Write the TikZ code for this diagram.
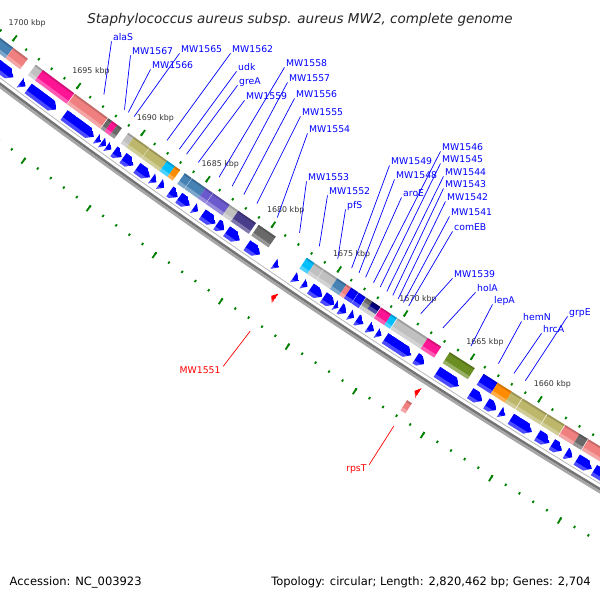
\documentclass[tikz,border=0pt]{standalone}
\usepackage{fontspec}
\setmainfont{DejaVu Sans}
\definecolor{cSteel}{HTML}{4682B4}
\definecolor{cCoral}{HTML}{F08080}
\definecolor{cLGray}{HTML}{C0C0C0}
\definecolor{cPink}{HTML}{FF1493}
\definecolor{cDGray}{HTML}{696969}
\definecolor{cKhaki}{HTML}{BDB76B}
\definecolor{cSky}{HTML}{00BFFF}
\definecolor{cOrange}{HTML}{FF8C00}
\definecolor{cSlate}{HTML}{6A5ACD}
\definecolor{cDSlate}{HTML}{483D8B}
\definecolor{cNavy}{HTML}{000080}
\definecolor{cOlive}{HTML}{6B8E23}
\definecolor{cBlue}{HTML}{0000FF}
\definecolor{cRed}{HTML}{FF0000}
\definecolor{cTick}{HTML}{008000}
\def\gCX{4326}\def\gCY{5672}\def\gRR{7154}
% point at genome position #2 (kbp), radial offset #3 (px, outward)
\newcommand\setpt[3]{%
  \expandafter\edef\csname p#1x\endcsname{\fpeval{round(\gCX+(\gRR+(#3))*cosd(235.5+(1680-(#2))*0.12764),2)}}%
  \expandafter\edef\csname p#1y\endcsname{\fpeval{round(\gCY+(\gRR+(#3))*sind(235.5+(1680-(#2))*0.12764),2)}}%
}
\newcommand\cogboxd[5]{%
  \setpt{A}{#1}{#3}\setpt{B}{#2}{#3}\setpt{C}{#2}{#4}\setpt{D}{#1}{#4}%
  \setpt{E}{#1}{#4-3.5}\setpt{F}{#2}{#4-3.5}%
  \setpt{G}{#1}{#3+1.8}\setpt{H}{#2}{#3+1.8}%
  \fill[#5] (\pAx,\pAy) -- (\pBx,\pBy) -- (\pCx,\pCy) -- (\pDx,\pDy) -- cycle;
  \fill[white,opacity=.3] (\pEx,\pEy) -- (\pFx,\pFy) -- (\pCx,\pCy) -- (\pDx,\pDy) -- cycle;
  \fill[black,opacity=.18] (\pAx,\pAy) -- (\pBx,\pBy) -- (\pHx,\pHy) -- (\pGx,\pGy) -- cycle;
}
\newcommand\cogbox[3]{\cogboxd{#1}{#2}{9.5}{22.5}{#3}}
% reverse-strand gene arrow (tip toward lower position)
\newcommand\revarrow[3]{%
  \setpt{A}{#1}{27}\setpt{D}{#1}{39}\setpt{T}{#2}{33}%
  \setpt{B}{#2+0.4}{27}\setpt{C}{#2+0.4}{39}%
  \ifdim\fpeval{#1-#2}pt<0.45pt
    \def\zzshape{(\pAx,\pAy) -- (\pTx,\pTy) -- (\pDx,\pDy) -- cycle}%
  \else
    \def\zzshape{(\pAx,\pAy) -- (\pBx,\pBy) -- (\pTx,\pTy) -- (\pCx,\pCy) -- (\pDx,\pDy) -- cycle}%
  \fi
  \setpt{E}{#1}{35.5}\setpt{F}{#2}{35.5}\setpt{G}{#2}{40}\setpt{H}{#1}{40}%
  \begin{scope}
    \clip \zzshape;
    \fill[#3] \zzshape;
    \fill[white,opacity=.3] (\pEx,\pEy) -- (\pFx,\pFy) -- (\pGx,\pGy) -- (\pHx,\pHy) -- cycle;
  \end{scope}
}
% forward-strand gene arrow (tip toward higher position)
\newcommand\fwdarrow[3]{%
  \setpt{A}{#2}{55}\setpt{D}{#2}{67}\setpt{T}{#1}{61}%
  \setpt{B}{#1-0.4}{55}\setpt{C}{#1-0.4}{67}%
  \ifdim\fpeval{#1-#2}pt<0.45pt
    \def\zzshape{(\pAx,\pAy) -- (\pTx,\pTy) -- (\pDx,\pDy) -- cycle}%
  \else
    \def\zzshape{(\pAx,\pAy) -- (\pBx,\pBy) -- (\pTx,\pTy) -- (\pCx,\pCy) -- (\pDx,\pDy) -- cycle}%
  \fi
  \setpt{E}{#2}{63.5}\setpt{F}{#1}{63.5}\setpt{G}{#1}{68}\setpt{H}{#2}{68}%
  \begin{scope}
    \clip \zzshape;
    \fill[#3] \zzshape;
    \fill[white,opacity=.3] (\pEx,\pEy) -- (\pFx,\pFy) -- (\pGx,\pGy) -- (\pHx,\pHy) -- cycle;
  \end{scope}
}
\newcommand\glabel[5]{%
  \node[glbl] (#1) at (#2,{-(#3+3.4)}) {#5};
  \setpt{A}{#4}{-7}\coordinate (#1e) at (\pAx,\pAy);
  \draw[gline] ([shift={(-1.5,-1)}]#1.base west) -- (#1e);
}
\newcommand\rlabel[5]{%
  \node[rlbl] (#1) at (#2,{-(#3+3.4)}) {#5};
  \setpt{A}{#4}{102}\coordinate (#1e) at (\pAx,\pAy);
  \draw[rline] ([shift={(2.5,7)}]#1.base east) -- (#1e);
}
\begin{document}
\begin{tikzpicture}[x=1pt,y=1pt,
  rtick/.style={draw=cTick,line width=1.8pt},
  klbl/.style={anchor=base west,inner sep=0pt,text=black!80,font=\fontsize{7.9}{9}\selectfont},
  glbl/.style={anchor=base west,inner sep=0pt,text=cBlue,font=\fontsize{9.3}{11}\selectfont},
  rlbl/.style={anchor=base east,inner sep=0pt,text=cRed,font=\fontsize{9.3}{11}\selectfont},
  gline/.style={draw=cBlue,line width=0.7pt},
  rline/.style={draw=cRed,line width=0.7pt}]
\useasboundingbox (0,0) rectangle (600,-600);
\fill[white] (0,0) rectangle (600,-600);
\clip (0,0) rectangle (600,-600);

% rulers
\foreach \k in {1645,...,1710}{%
  \setpt{A}{\k}{2}\setpt{B}{\k}{4.5}\draw[rtick] (\pAx,\pAy) -- (\pBx,\pBy);
  \setpt{A}{\k}{90.5}\setpt{B}{\k}{93}\draw[rtick] (\pAx,\pAy) -- (\pBx,\pBy);
}
\foreach \k in {1645,1650,...,1710}{%
  \setpt{A}{\k}{-2.5}\setpt{B}{\k}{4.5}\draw[rtick] (\pAx,\pAy) -- (\pBx,\pBy);
  \setpt{A}{\k}{90.5}\setpt{B}{\k}{97.5}\draw[rtick] (\pAx,\pAy) -- (\pBx,\pBy);
}
\foreach \k in {1660,1665,...,1700}{%
  \setpt{A}{\k}{0}\node[klbl] (k\k) at (\pAx-7,\pAy+11.6) {\k\ kbp};
}

% backbone
\setpt{A}{1712}{41.5}\xdef\thinpath{(\pAx,\pAy)}
\setpt{A}{1712}{46.25}\xdef\bandA{(\pAx,\pAy)}
\setpt{A}{1712}{48.75}\xdef\bandB{(\pAx,\pAy)}
\foreach \k in {1710,1708,...,1644}{%
  \setpt{A}{\k}{41.5}\xdef\thinpath{\thinpath -- (\pAx,\pAy)}%
  \setpt{A}{\k}{46.25}\xdef\bandA{\bandA -- (\pAx,\pAy)}%
  \setpt{A}{\k}{48.75}\xdef\bandB{\bandB -- (\pAx,\pAy)}%
}
\draw[gray!55,line width=0.8pt] \thinpath;
\draw[black!55,line width=2.6pt] \bandA;
\draw[black!35,line width=2.6pt] \bandB;

% COG ring (reverse strand)
\cogbox{1703}{1699.72}{cSteel}
\cogbox{1699.7}{1698.57}{cCoral}
\cogbox{1697.95}{1697.42}{cLGray}
\cogbox{1697.4}{1694.95}{cPink}
\cogbox{1694.9}{1692.35}{cCoral}
\cogbox{1692.3}{1692.0}{cDGray}
\cogbox{1692.0}{1691.6}{cPink}
\cogbox{1691.6}{1691.25}{cDGray}
\cogbox{1690.75}{1690.3}{cLGray}
\cogbox{1690.3}{1689.15}{cKhaki}
\cogbox{1689.12}{1687.75}{cKhaki}
\cogbox{1687.75}{1687.15}{cSky}
\cogbox{1687.15}{1686.75}{cOrange}
\cogbox{1686.4}{1685.87}{cSteel}
\cogbox{1685.84}{1684.8}{cSteel}
\cogbox{1684.8}{1684.25}{cSlate}
\cogbox{1684.22}{1682.95}{cSlate}
\cogbox{1682.95}{1682.3}{cLGray}
\cogbox{1682.3}{1680.95}{cDSlate}
\cogbox{1680.75}{1679.45}{cDGray}
\cogbox{1677.1}{1676.5}{cSky}
\cogbox{1676.5}{1675.85}{cLGray}
\cogbox{1675.82}{1674.8}{cLGray}
\cogbox{1674.8}{1674.1}{cSteel}
\cogbox{1674.1}{1673.75}{cCoral}
\cogbox{1673.75}{1673.2}{cBlue}
\cogbox{1673.17}{1672.65}{cBlue}
\cogbox{1672.6}{1671.55}{cLGray}
\cogboxd{1672.6}{1672.15}{9.5}{18}{cDGray}
\cogboxd{1672.15}{1671.55}{9.5}{18}{cNavy}
\cogbox{1671.5}{1670.72}{cPink}
\cogbox{1670.72}{1670.3}{cSky}
\cogbox{1670.25}{1668.0}{cLGray}
\cogbox{1668.0}{1667.0}{cPink}
\cogbox{1666.36}{1664.5}{cOlive}
\cogbox{1663.84}{1662.8}{cBlue}
\cogbox{1662.8}{1661.75}{cOrange}
\cogbox{1661.75}{1661.0}{cKhaki}
\cogbox{1660.95}{1659.15}{cKhaki}
\cogbox{1659.1}{1657.85}{cKhaki}
\cogbox{1657.8}{1656.75}{cCoral}
\cogbox{1656.75}{1656.15}{cDGray}
\cogbox{1656.1}{1652}{cCoral}

% reverse strand genes
\revarrow{1702}{1698.6}{cBlue}
\revarrow{1698.05}{1697.65}{cBlue}
\revarrow{1697.44}{1695.24}{cBlue}
\revarrow{1694.65}{1692.35}{cBlue}
\revarrow{1692.15}{1691.8}{cBlue}
\revarrow{1691.75}{1691.4}{cBlue}
\revarrow{1691.35}{1691.0}{cBlue}
\revarrow{1690.8}{1690.2}{cBlue}
\revarrow{1690.1}{1689.3}{cBlue}
\revarrow{1689.03}{1688.03}{cBlue}
\revarrow{1687.9}{1687.5}{cBlue}
\revarrow{1687.3}{1686.9}{cBlue}
\revarrow{1686.5}{1685.9}{cBlue}
\revarrow{1685.82}{1684.98}{cBlue}
\revarrow{1684.7}{1684.35}{cBlue}
\revarrow{1684.02}{1683.02}{cBlue}
\revarrow{1682.92}{1682.32}{cBlue}
\revarrow{1682.17}{1681.17}{cBlue}
\revarrow{1680.63}{1679.63}{cBlue}
\revarrow{1678.58}{1678.2}{cBlue}
\revarrow{1677.1}{1676.7}{cBlue}
\revarrow{1676.4}{1676.05}{cBlue}
\revarrow{1675.83}{1674.93}{cBlue}
\revarrow{1674.85}{1674.02}{cBlue}
\revarrow{1674.0}{1673.7}{cBlue}
\revarrow{1673.6}{1673.1}{cBlue}
\revarrow{1672.9}{1672.55}{cBlue}
\revarrow{1672.35}{1671.85}{cBlue}
\revarrow{1671.5}{1671.05}{cBlue}
\revarrow{1670.85}{1670.5}{cBlue}
\revarrow{1670.23}{1668.28}{cBlue}
\revarrow{1667.95}{1667.28}{cBlue}
\revarrow{1666.37}{1664.73}{cBlue}
\revarrow{1663.9}{1663.0}{cBlue}
\revarrow{1662.7}{1661.95}{cBlue}
\revarrow{1661.7}{1661.3}{cBlue}
\revarrow{1660.9}{1659.35}{cBlue}
\revarrow{1658.95}{1658.06}{cBlue}
\revarrow{1657.88}{1657.14}{cBlue}
\revarrow{1656.85}{1656.35}{cBlue}
\revarrow{1656.06}{1654.96}{cBlue}
\revarrow{1654.8}{1651}{cBlue}

% forward strand genes
\fwdarrow{1677.6}{1677.3}{cRed}
\fwdarrow{1666.9}{1666.62}{cRed}
\cogboxd{1666.98}{1666.62}{73}{85}{cCoral}

% labels
\glabel{alaS}{113}{37}{1693.4}{alaS}
\glabel{MW1567}{132}{51}{1691.8}{MW1567}
\glabel{MW1566}{152}{65}{1691.5}{MW1566}
\glabel{MW1565}{181}{49}{1691.05}{MW1565}
\glabel{MW1562}{232}{49}{1688.5}{MW1562}
\glabel{udk}{238}{67}{1687.55}{udk}
\glabel{greA}{239}{81}{1687.0}{greA}
\glabel{MW1559}{246}{96}{1686.1}{MW1559}
\glabel{MW1558}{286}{63}{1684.5}{MW1558}
\glabel{MW1557}{289}{78}{1683.5}{MW1557}
\glabel{MW1556}{296}{94}{1682.6}{MW1556}
\glabel{MW1555}{302}{112}{1681.6}{MW1555}
\glabel{MW1554}{309}{129}{1680.05}{MW1554}
\glabel{MW1553}{308}{177}{1678.35}{MW1553}
\glabel{MW1552}{329}{191}{1676.85}{MW1552}
\glabel{pfS}{347}{205}{1675.45}{pfS}
\glabel{MW1549}{391}{161}{1674.4}{MW1549}
\glabel{MW1548}{396}{175}{1673.85}{MW1548}
\glabel{aroE}{403}{193}{1673.35}{aroE}
\glabel{MW1546}{442}{147}{1672.75}{MW1546}
\glabel{MW1545}{442}{159}{1672.25}{MW1545}
\glabel{MW1544}{445}{172}{1671.75}{MW1544}
\glabel{MW1543}{445}{184}{1671.3}{MW1543}
\glabel{MW1542}{447}{197}{1670.9}{MW1542}
\glabel{MW1541}{451}{212}{1670.5}{MW1541}
\glabel{comEB}{454}{227}{1670.1}{comEB}
\glabel{MW1539}{454}{274}{1669.2}{MW1539}
\glabel{holA}{477}{288}{1667.55}{holA}
\glabel{lepA}{494}{300}{1665.45}{lepA}
\glabel{hemN}{523}{317}{1663.4}{hemN}
\glabel{hrcA}{543}{329}{1662.25}{hrcA}
\glabel{grpE}{569}{312}{1661.4}{grpE}
\rlabel{MW1551}{220.7}{370}{1677.45}{MW1551}
\rlabel{rpsT}{366.7}{468.3}{1666.8}{rpsT}

\node[anchor=base,inner sep=0pt,font=\fontsize{13.5}{15}\selectfont\itshape,text=black!85] (title) at (300,-23) {Staphylococcus aureus subsp. aureus MW2, complete genome};
\node[anchor=base west,inner sep=0pt,font=\fontsize{11.5}{13}\selectfont] (acc) at (9.5,-585.2) {Accession: NC\_003923};
\node[anchor=base east,inner sep=0pt,font=\fontsize{11.5}{13}\selectfont] (topo) at (591,-585.2) {Topology: circular; Length: 2,820,462 bp; Genes: 2,704};
\end{tikzpicture}
\end{document}
